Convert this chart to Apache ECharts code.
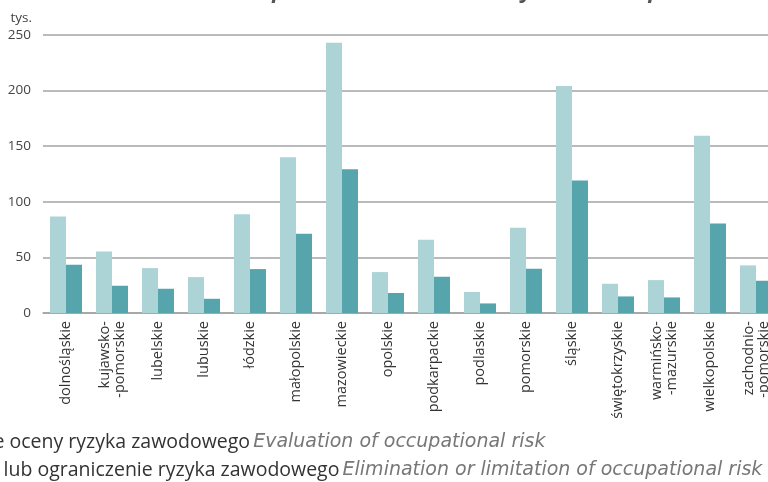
<!DOCTYPE html>
<html>
<head>
<meta charset="utf-8">
<script src="https://cdn.jsdelivr.net/npm/echarts@6/dist/echarts.min.js"></script>
<style>
  html, body { margin: 0; padding: 0; background: #fff; overflow: hidden; width: 768px; height: 482px; }
  /* the source graphic is cropped on the right, so the canvas runs past the window */
  #chart { width: 800px; height: 482px; }
</style>
</head>
<body>
<div id="chart"></div>
<script>
// voivodeships (two-line labels split with \n)
const categories = [
  "dolnośląskie", "kujawsko-\n-pomorskie", "lubelskie", "lubuskie", "łódzkie",
  "małopolskie", "mazowieckie", "opolskie", "podkarpackie", "podlaskie",
  "pomorskie", "śląskie", "świętokrzyskie", "warmińsko-\n-mazurskie",
  "wielkopolskie", "zachodnio-\n-pomorskie",
];

// thousands
const evaluation = [86.8, 55.3, 40.4, 32.3, 88.9, 140.1, 243, 36.8, 65.8, 18.9, 76.6, 204.2, 26.3, 29.6, 159.3, 42.8];
const elimination = [43.4, 24.5, 21.8, 12.8, 39.5, 71.2, 129.3, 18, 32.6, 8.6, 39.8, 119.1, 14.9, 14, 80.5, 29];

const yTicks = { min: 0, max: 250, interval: 50 };

const legendText = {
  evaluation: ["Dokonanie oceny ryzyka zawodowego", "Evaluation of occupational risk"],
  elimination: ["Usunięcie lub ograniczenie ryzyka zawodowego", "Elimination or limitation of occupational risk"],
};

const LIGHT = "#acd4d7";
const DARK = "#57a5ac";
const GRID_LINE = "#a3a3a3";
const FONT = "'Open Sans', sans-serif";
const FONT_IT = "'DejaVu Sans', sans-serif";

const chart = echarts.init(document.getElementById("chart"), null, { renderer: "canvas" });

chart.setOption({
  animation: false,
  backgroundColor: "#fff",
  textStyle: { fontFamily: FONT },
  title: {
    text: "Entities with occupational risk assessed by voivodeships",
    right: 128,
    top: -19,
    padding: 0,
    textStyle: {
      fontFamily: FONT,
      fontSize: 22,
      fontWeight: "bold",
      fontStyle: "italic",
      color: "#555",
    },
  },
  legend: {
    orient: "vertical",
    left: -120,
    top: 427,
    height: 120,
    itemWidth: 16,
    itemHeight: 16,
    itemGap: 8,
    icon: "rect",
    data: ["evaluation", "elimination"],
    formatter: (name) => {
      const [pl, en] = legendText[name];
      // second entry sits a little further right in the source
      const plStyle = name === "elimination" ? "pl2" : "pl";
      return `{${plStyle}|${pl}} {en|${en}}`;
    },
    textStyle: {
      rich: {
        pl: { fontFamily: FONT, fontSize: 19.5, lineHeight: 20, color: "#333" },
        pl2: { fontFamily: FONT, fontSize: 19.5, lineHeight: 20, color: "#333", padding: [0, 0, 0, 4] },
        en: { fontFamily: FONT_IT, fontSize: 19, lineHeight: 20, color: "#777", fontStyle: "italic" },
      },
    },
  },
  grid: {
    left: 43,
    top: 35,
    width: 736,
    height: 278,
  },
  xAxis: {
    type: "category",
    data: categories,
    axisTick: { show: false },
    axisLine: { lineStyle: { color: GRID_LINE, width: 1.5 } },
    axisLabel: {
      interval: 0,
      rotate: 90,
      margin: 8,
      color: "#333",
      fontSize: 14.5,
      lineHeight: 15,
      fontFamily: FONT,
    },
  },
  yAxis: {
    type: "value",
    min: yTicks.min,
    max: yTicks.max,
    interval: yTicks.interval,
    name: "tys.",
    nameLocation: "end",
    nameGap: 10,
    nameTextStyle: {
      align: "right",
      padding: [0, 11, 0, 0],
      color: "#444",
      fontSize: 13.5,
      fontFamily: FONT,
    },
    axisLine: { show: false },
    axisTick: { show: false },
    axisLabel: { color: "#444", fontSize: 13.5, margin: 12, fontFamily: FONT },
    splitLine: { lineStyle: { color: GRID_LINE, width: 1.5 } },
  },
  series: [
    {
      name: "evaluation",
      type: "bar",
      data: evaluation,
      barWidth: 16,
      barGap: "0%",
      itemStyle: { color: LIGHT },
    },
    {
      name: "elimination",
      type: "bar",
      data: elimination,
      barWidth: 16,
      barGap: "0%",
      itemStyle: { color: DARK },
    },
  ],
});
</script>
</body>
</html>
